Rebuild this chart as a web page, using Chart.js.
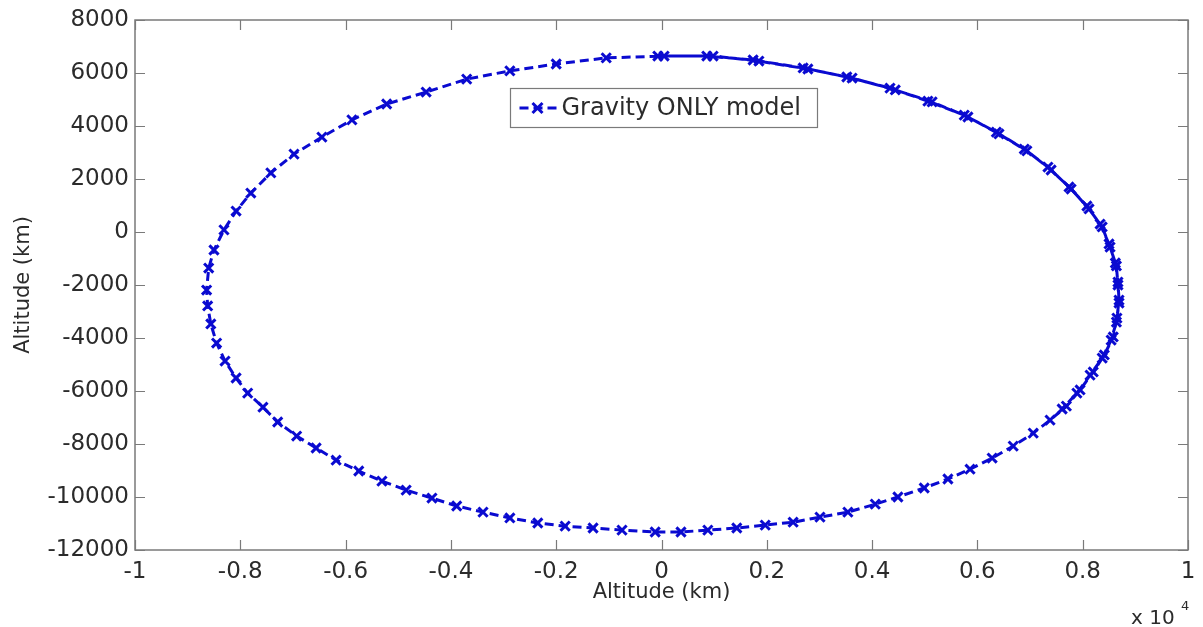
<!DOCTYPE html>
<html>
<head>
<meta charset="utf-8">
<script src="https://cdn.jsdelivr.net/npm/chart.js@4.4.1/dist/chart.umd.min.js"></script>
<style>
  html, body { margin: 0; padding: 0; background: #fff; }
</style>
</head>
<body>
<canvas id="graph" width="1203" height="627"></canvas>
<script>
// orbit track, km (one full revolution then the start of the next one)
const orbitX = [
  -70, 860, 1740, 2690, 3520, 4340, 5060, 5750, 6360, 6890,
  7340, 7740, 8080, 8330, 8500, 8620, 8670, 8690, 8650, 8580,
  8410, 8200, 7950, 7690, 7380, 7060, 6680, 6280, 5860, 5440,
  4990, 4490, 4060, 3540, 3010, 2500, 1970, 1430, 880, 370,
  -120, -750, -1300, -1830, -2350, -2880, -3390, -3890, -4360, -4850,
  -5310, -5750, -6180, -6560, -6930, -7290, -7570, -7860, -8080, -8290,
  -8450, -8560, -8620, -8640, -8600, -8500, -8310, -8080, -7800, -7420,
  -6980, -6450, -5880, -5220, -4470, -3700, -2880, -2000, -1050,
  50, 980, 1850, 2780, 3620, 4440, 5140, 5820, 6410, 6940,
  7400, 7780, 8120, 8370, 8520, 8640, 8670, 8690, 8640, 8540,
  8370, 8140, 7890, 7610
];
const orbitY = [
  6640, 6640, 6490, 6190, 5850, 5430, 4940, 4410, 3770, 3130,
  2450, 1700, 980, 300, -450, -1170, -1890, -2570, -3250, -3960,
  -4640, -5280, -5960, -6570, -7100, -7590, -8080, -8530, -8950, -9320,
  -9660, -10000, -10270, -10570, -10760, -10950, -11060, -11170, -11250, -11320,
  -11320, -11250, -11170, -11100, -10980, -10790, -10570, -10340, -10040, -9740,
  -9400, -9020, -8610, -8150, -7700, -7170, -6610, -6080, -5510, -4870,
  -4190, -3470, -2790, -2190, -1360, -680, 80, 790, 1470, 2230,
  2940, 3580, 4230, 4830, 5280, 5770, 6080, 6340, 6570,
  6640, 6640, 6450, 6150, 5810, 5360, 4910, 4340, 3700, 3060,
  2340, 1620, 870, 190, -570, -1280, -2000, -2680, -3400, -4080,
  -4760, -5400, -6080, -6680
];

const xTickLabels = ['-1', '-0.8', '-0.6', '-0.4', '-0.2', '0', '0.2', '0.4', '0.6', '0.8', '1'];
const yTickLabels = ['-12000', '-10000', '-8000', '-6000', '-4000', '-2000', '0', '2000', '4000', '6000', '8000'];

const lineBlue = '#0a0ad0';
const inkGrey = '#2b2b2b';
const boxGrey = '#7a7a7a';
const font = "'DejaVu Sans', sans-serif";

const points = orbitX.map((x, i) => ({ x: x, y: orbitY[i] }));

// box round the plot with inward ticks on all four sides
const boxTicks = {
  id: 'boxTicks',
  afterDatasetsDraw(chart) {
    const { ctx, chartArea: a, scales } = chart;
    ctx.save();
    ctx.strokeStyle = boxGrey;
    ctx.lineWidth = 1.5;
    ctx.strokeRect(a.left, a.top, a.right - a.left, a.bottom - a.top);
    ctx.lineWidth = 1.2;
    const len = 10;
    ctx.beginPath();
    scales.x.ticks.forEach(t => {
      const px = Math.round(scales.x.getPixelForValue(t.value)) + 0.5;
      ctx.moveTo(px, a.bottom); ctx.lineTo(px, a.bottom - len);
      ctx.moveTo(px, a.top); ctx.lineTo(px, a.top + len);
    });
    scales.y.ticks.forEach(t => {
      const py = Math.round(scales.y.getPixelForValue(t.value)) + 0.5;
      ctx.moveTo(a.left, py); ctx.lineTo(a.left + len, py);
      ctx.moveTo(a.right, py); ctx.lineTo(a.right - len, py);
    });
    ctx.stroke();

    // x 10^4 exponent under the right end of the x axis
    ctx.fillStyle = inkGrey;
    ctx.textBaseline = 'alphabetic';
    ctx.textAlign = 'left';
    ctx.font = '20px ' + font;
    ctx.fillText('x 10', 1131, 624);
    ctx.font = '13px ' + font;
    ctx.fillText('4', 1181, 610);
    ctx.restore();
  }
};

// legend box inside the plot
const innerLegend = {
  id: 'innerLegend',
  afterDraw(chart) {
    const { ctx } = chart;
    const ds = chart.data.datasets[0];
    const bx = 510.5, by = 88.5, bw = 307, bh = 39;
    const cy = by + bh / 2;
    ctx.save();
    ctx.fillStyle = '#fff';
    ctx.fillRect(bx, by, bw, bh);
    ctx.strokeStyle = boxGrey;
    ctx.lineWidth = 1.2;
    ctx.strokeRect(bx, by, bw, bh);

    ctx.strokeStyle = ds.borderColor;
    ctx.lineWidth = ds.borderWidth;
    ctx.setLineDash(ds.borderDash);
    ctx.beginPath();
    ctx.moveTo(bx + 9, cy);
    ctx.lineTo(bx + 46, cy);
    ctx.stroke();
    ctx.setLineDash([]);
    ctx.lineWidth = ds.pointBorderWidth;
    const r = 5, mx = bx + 27;
    ctx.beginPath();
    ctx.moveTo(mx - r, cy - r); ctx.lineTo(mx + r, cy + r);
    ctx.moveTo(mx + r, cy - r); ctx.lineTo(mx - r, cy + r);
    ctx.stroke();

    ctx.fillStyle = inkGrey;
    ctx.font = '24px ' + font;
    ctx.textBaseline = 'middle';
    ctx.fillText(ds.label, bx + 51, cy + 1);
    ctx.restore();
  }
};

const config = {
  type: 'scatter',
  data: {
    datasets: [{
      label: 'Gravity ONLY model',
      data: points,
      showLine: true,
      borderColor: lineBlue,
      backgroundColor: lineBlue,
      borderWidth: 3,
      borderDash: [9, 5],
      tension: 0,
      pointStyle: 'crossRot',
      pointRadius: 6.5,
      pointBorderWidth: 3,
      pointBorderColor: lineBlue,
      pointHoverRadius: 6.5
    }]
  },
  options: {
    responsive: false,
    animation: false,
    devicePixelRatio: 1,
    layout: { padding: { left: 0, right: 15, top: 20, bottom: 0 } },
    plugins: {
      legend: { display: false },
      tooltip: { enabled: false }
    },
    scales: {
      x: {
        type: 'linear',
        min: -10000,
        max: 10000,
        grid: { display: false },
        border: { display: false },
        afterFit: (s) => { s.height = 77; },
        ticks: {
          stepSize: 2000,
          color: inkGrey,
          font: { family: font, size: 23 },
          padding: 0,
          maxRotation: 0,
          autoSkip: false,
          callback: (v, i) => xTickLabels[i]
        },
        title: {
          display: true,
          text: 'Altitude (km)',
          color: inkGrey,
          font: { family: font, size: 21 },
          padding: { top: 0, bottom: 22 }
        }
      },
      y: {
        type: 'linear',
        min: -12000,
        max: 8000,
        grid: { display: false },
        border: { display: false },
        afterFit: (s) => { s.width = 135; },
        ticks: {
          stepSize: 2000,
          color: inkGrey,
          font: { family: font, size: 23 },
          padding: -2,
          autoSkip: false,
          callback: (v, i) => yTickLabels[i]
        },
        title: {
          display: true,
          text: 'Altitude (km)',
          color: inkGrey,
          font: { family: font, size: 21 },
          padding: { top: 11, bottom: 0 }
        }
      }
    }
  },
  plugins: [boxTicks, innerLegend]
};

const graph = new Chart(document.getElementById('graph'), config);
</script>
</body>
</html>
